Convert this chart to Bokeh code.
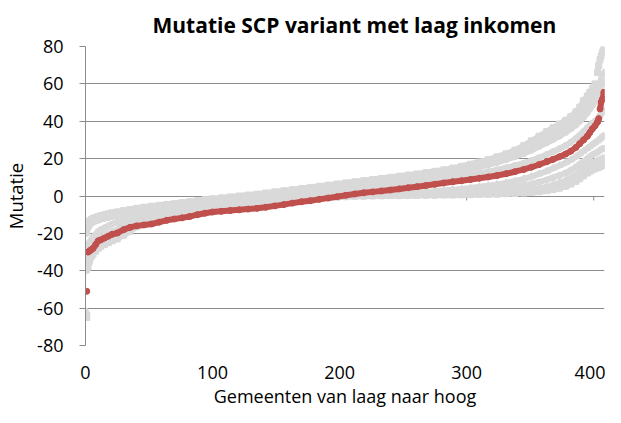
from bokeh.plotting import figure
from bokeh.models import Range1d, FixedTicker, Title
from bokeh.embed import file_html
from bokeh.resources import INLINE

TITLE = "Mutatie SCP variant met laag inkomen"
X_LABEL = "Gemeenten van laag naar hoog"
Y_LABEL = "Mutatie"
X_TICKS = [0, 100, 200, 300, 400]
Y_TICKS = [-80, -60, -40, -20, 0, 20, 40, 60, 80]
Y_TICK_LABELS = ["-80", "-60", "-40", "-20", "0", "20", "40", "60", "80"]

# municipality rank positions at which values were read
gemeente = [1, 2, 3, 4, 5, 6, 8, 10, 12, 15,
            18, 21, 25, 30, 35, 40, 46, 52, 58, 64,
            70, 76, 82, 88, 94, 100, 107, 114, 121, 128,
            135, 142, 149, 156, 163, 170, 177, 184, 191, 198,
            205, 212, 219, 226, 233, 240, 247, 254, 261, 268,
            275, 282, 289, 296, 303, 310, 317, 324, 331, 338,
            345, 351, 357, 363, 368, 373, 378, 382, 386, 389,
            392, 395, 397, 399, 401, 403, 404, 405, 406, 407,
            408]

laag_inkomen = [-51, -30, -29.5, -29, -28.5, -28, -26, -24, -23.5, -22.5,
                -21.5, -20.5, -19.8, -18, -16.8, -16, -15.5, -15, -14, -13,
                -12.3, -11.7, -11, -10, -9.2, -8.6, -8.2, -7.8, -7.4, -7,
                -6.6, -6, -5.3, -4.6, -3.8, -3.1, -2.5, -1.8, -1.1, -0.4,
                0.4, 1.1, 1.7, 2.2, 2.7, 3.2, 3.8, 4.4, 5, 5.6,
                6.3, 7, 7.6, 8.2, 8.8, 9.5, 10.2, 11, 11.9, 13,
                14.2, 15.4, 16.8, 18.3, 19.6, 21, 22.5, 24, 26, 28,
                30, 32, 34, 36, 37.5, 39.6, 41.4, 46.6, 50.5, 52,
                55.5]

variant_1 = [-15, -14, -13.5, -13, -12.5, -12, -11.5, -11, -10.5, -10,
             -9.5, -9, -8.5, -7.8, -7.2, -6.6, -6, -5.5, -5, -4.5,
             -4, -3.5, -3, -2.5, -2, -1.5, -1, -0.5, 0, 0.5,
             1, 1.6, 2.2, 2.8, 3.4, 4, 4.6, 5.2, 5.8, 6.4,
             7, 7.6, 8.2, 8.8, 9.4, 10, 10.6, 11.2, 11.8, 12.5,
             13.2, 14, 14.9, 15.9, 17, 18.2, 19.5, 21, 22.6, 24.5,
             27, 29.5, 32, 34.5, 36.5, 38.5, 40.5, 42.5, 45, 47.5,
             51, 53.5, 55.5, 57.5, 60, 66, 70, 73, 75, 77,
             79]

variant_2 = [-17, -15.5, -14.5, -14, -13.5, -13, -12.5, -12, -11.5, -11,
             -10.5, -10, -9.5, -8.8, -8.2, -7.6, -7, -6.5, -6, -5.5,
             -5, -4.5, -4, -3.5, -3, -2.5, -2, -1.5, -1, -0.5,
             0, 0.6, 1.2, 1.8, 2.4, 3, 3.6, 4.2, 4.8, 5.4,
             6, 6.6, 7.2, 7.8, 8.4, 9, 9.6, 10.2, 10.8, 11.5,
             12.2, 13, 13.9, 14.9, 16, 17.2, 18.5, 20, 21.6, 23.3,
             25, 27, 29, 31, 33, 35, 37, 39, 41.5, 43.5,
             46, 48.5, 50.5, 52.5, 54.5, 57, 59, 61, 63, 65,
             66]

variant_3 = [-20, -17, -16, -15, -14.5, -14, -13.5, -13, -12.5, -12,
             -11.5, -11, -10.5, -9.8, -9.2, -8.6, -8, -7.5, -7, -6.5,
             -6, -5.5, -5, -4.5, -4, -3.5, -3, -2.5, -2, -1.5,
             -1, -0.4, 0.2, 0.8, 1.4, 2, 2.6, 3.2, 3.8, 4.4,
             5, 5.6, 6.2, 6.8, 7.4, 8, 8.6, 9.2, 9.8, 10.4,
             11, 11.7, 12.5, 13.4, 14.4, 15.5, 16.7, 18, 19.4, 21,
             22.7, 24.5, 26.5, 28.5, 30.2, 32, 34, 36, 38, 40,
             42, 44.5, 46.5, 48.5, 50.5, 53, 55, 57, 59, 60,
             61]

variant_4 = [-30, -27, -25, -24, -23, -22, -20.5, -19, -18, -17,
             -16, -15, -14, -13, -12.2, -11.5, -11, -10.5, -10, -9.5,
             -8.5, -8, -7.3, -6.6, -5.9, -5.2, -4.7, -4.2, -3.7, -3.2,
             -2.7, -2.2, -1.6, -1, -0.4, 0.2, 0.8, 1.4, 2, 2.6,
             3.1, 3.6, 4.1, 4.6, 5.1, 5.6, 6.1, 6.7, 7.3, 7.9,
             8.4, 9.1, 9.8, 10.5, 11.3, 12.1, 13, 14, 15.1, 16.3,
             17.6, 19, 20.5, 22.2, 23.7, 25.3, 27, 28.8, 30.8, 32.5,
             34.5, 36.5, 37.8, 39, 40, 41, 42, 43, 44, 45,
             46]

variant_5 = [-35, -32, -30, -28.5, -27, -26, -24.5, -23, -22, -21,
             -20, -19, -18, -15, -13.5, -12.5, -11.5, -11, -10.5, -10,
             -9.5, -9, -8.5, -7.8, -7, -6.3, -5.8, -5.3, -4.8, -4.3,
             -3.8, -3.3, -2.8, -2.3, -1.8, -1.4, -1, -0.6, -0.3, 0,
             0.2, 0.4, 0.6, 0.8, 1, 1.2, 1.4, 1.6, 1.9, 2.2,
             2.5, 2.9, 3.3, 3.8, 4.3, 4.9, 5.5, 6.2, 7, 8,
             9.2, 10.4, 11.8, 13.3, 14.8, 16.3, 17.8, 19.3, 21, 22.5,
             24, 25.5, 26.5, 27.5, 28.5, 29.5, 30, 30.7, 31.3, 31.8,
             32]

variant_6 = [-40, -34, -32, -30, -28.5, -27.5, -26, -25, -24, -23,
             -22, -21, -20, -18, -15.5, -13.5, -12.5, -11.8, -11.2, -10.6,
             -10, -9.4, -8.8, -8.2, -7.5, -6.8, -6.1, -5.5, -5, -4.5,
             -4, -3.5, -3, -2.5, -2, -1.6, -1.2, -0.8, -0.5, -0.2,
             0, 0.2, 0.3, 0.4, 0.5, 0.6, 0.7, 0.8, 0.9, 1,
             1.2, 1.4, 1.7, 2, 2.4, 2.8, 3.3, 3.8, 4.4, 5,
             5.7, 6.5, 7.5, 8.6, 9.8, 11, 12.3, 13.8, 15.5, 17,
             18.5, 20, 21, 22, 22.8, 23.5, 24, 24.5, 25, 25.3,
             25.5]

variant_7 = [-62, -36, -33, -31, -30, -29, -28, -27, -26, -25,
             -24, -23, -22, -20, -18, -15, -13, -12, -11.5, -11,
             -10.5, -10, -9.5, -9, -8.3, -7.6, -6.9, -6.2, -5.6, -5,
             -4.5, -4, -3.5, -3, -2.5, -2, -1.5, -1.1, -0.7, -0.4,
             -0.2, 0, 0.1, 0.2, 0.3, 0.4, 0.5, 0.6, 0.7, 0.8,
             0.9, 1, 1.1, 1.3, 1.5, 1.7, 2, 2.3, 2.6, 3,
             2.8, 3.3, 4, 4.8, 5.8, 7, 8.3, 9.8, 11.3, 12.8,
             14.5, 16, 17, 17.8, 18.3, 18.8, 19.1, 19.4, 19.7, 20,
             20.2]

variant_8 = [-65, -38, -35, -33, -32, -31, -29.5, -28, -27, -26,
             -25, -24, -23, -21, -19, -16.5, -14, -12.8, -12, -11.5,
             -11, -10.5, -10, -9.5, -8.8, -8, -7.3, -6.6, -6, -5.4,
             -4.8, -4.2, -3.7, -3.2, -2.7, -2.2, -1.7, -1.3, -0.9, -0.6,
             -0.4, -0.2, -0.1, 0, 0.1, 0.2, 0.2, 0.3, 0.3, 0.4,
             0.4, 0.5, 0.5, 0.6, 0.7, 0.8, 0.9, 1, 1.2, 1.4,
             1.6, 1.9, 2.3, 2.8, 3.4, 4.2, 5.2, 6.4, 7.8, 9.2,
             10.8, 12.3, 13.3, 14, 14.6, 15.1, 15.5, 15.8, 16.1, 16.4,
             16.6]

GRAY = "#D9D9D9"
RED = "#C0504D"
GRID = "#8C8C8C"
FONT = "Open Sans"

p = figure(width=605, height=407, output_backend="svg", toolbar_location=None,
           x_range=Range1d(0, 408.5), y_range=Range1d(Y_TICKS[0], Y_TICKS[-1]),
           min_border_left=0, min_border_right=1, min_border_top=0,
           min_border_bottom=0)
p.outline_line_color = None
p.background_fill_color = "white"
p.border_fill_color = "white"

p.title.text = TITLE
p.title.text_font = FONT
p.title.text_font_size = "21px"
p.title.text_font_style = "bold"
p.title.align = "left"
p.title.text_color = "black"
p.title.standoff = 16
p.title.offset = 67

p.xgrid.visible = False
p.ygrid.ticker = FixedTicker(ticks=Y_TICKS)
p.ygrid.grid_line_color = GRID
p.ygrid.grid_line_width = 1

ya = p.yaxis[0]
ya.ticker = FixedTicker(ticks=Y_TICKS)
ya.major_label_overrides = {t: l for t, l in zip(Y_TICKS, Y_TICK_LABELS)}
ya.axis_line_color = GRID
ya.major_tick_line_color = GRID
ya.major_tick_out = 6
ya.major_tick_in = 0
ya.minor_tick_line_color = None
ya.major_label_standoff = 16
ya.major_label_text_font = FONT
ya.major_label_text_font_size = "18px"
ya.major_label_text_color = "black"
ya.axis_label = Y_LABEL
ya.axis_label_text_font = FONT
ya.axis_label_text_font_size = "18.5px"
ya.axis_label_text_font_style = "normal"
ya.axis_label_text_color = "black"
ya.axis_label_standoff = 6

xa = p.xaxis[0]
xa.ticker = FixedTicker(ticks=X_TICKS)
xa.axis_line_color = None
xa.major_tick_line_color = None
xa.minor_tick_line_color = None
xa.major_label_standoff = 14
xa.major_label_text_font = FONT
xa.major_label_text_font_size = "18px"
xa.major_label_text_color = "black"

x_title = Title(text=X_LABEL, align="center", text_font=FONT,
                text_font_size="18px", text_font_style="normal",
                text_color="black", standoff=0)
p.add_layout(x_title, "below")

# small tick marks on the horizontal axis at y = 0
p.segment(x0=X_TICKS, y0=[0] * len(X_TICKS), x1=X_TICKS, y1=[-2.4] * len(X_TICKS),
          line_color=GRID, line_width=1)


def draw(ys, color, marker, size):
    x0, y0, x1, y1 = [], [], [], []
    for i in range(len(gemeente) - 1):
        if abs(ys[i + 1] - ys[i]) <= 4:
            x0.append(gemeente[i]); y0.append(ys[i])
            x1.append(gemeente[i + 1]); y1.append(ys[i + 1])
    p.segment(x0=x0, y0=y0, x1=x1, y1=y1, line_color=color, line_width=6,
              line_cap="round")
    p.scatter(gemeente, ys, marker=marker, size=size, fill_color=color,
              line_color=color)


grays = [(variant_1, "square", 6), (variant_2, "triangle", 7),
         (variant_3, "circle", 6), (variant_4, "circle", 6),
         (variant_5, "triangle", 7), (variant_6, "circle", 6),
         (variant_7, "triangle", 7), (variant_8, "square", 6)]
for ys, mk, sz in grays:
    draw(ys, GRAY, mk, sz)
draw(laag_inkomen, RED, "circle", 6)

open("out.html", "w").write(file_html(p, INLINE))
